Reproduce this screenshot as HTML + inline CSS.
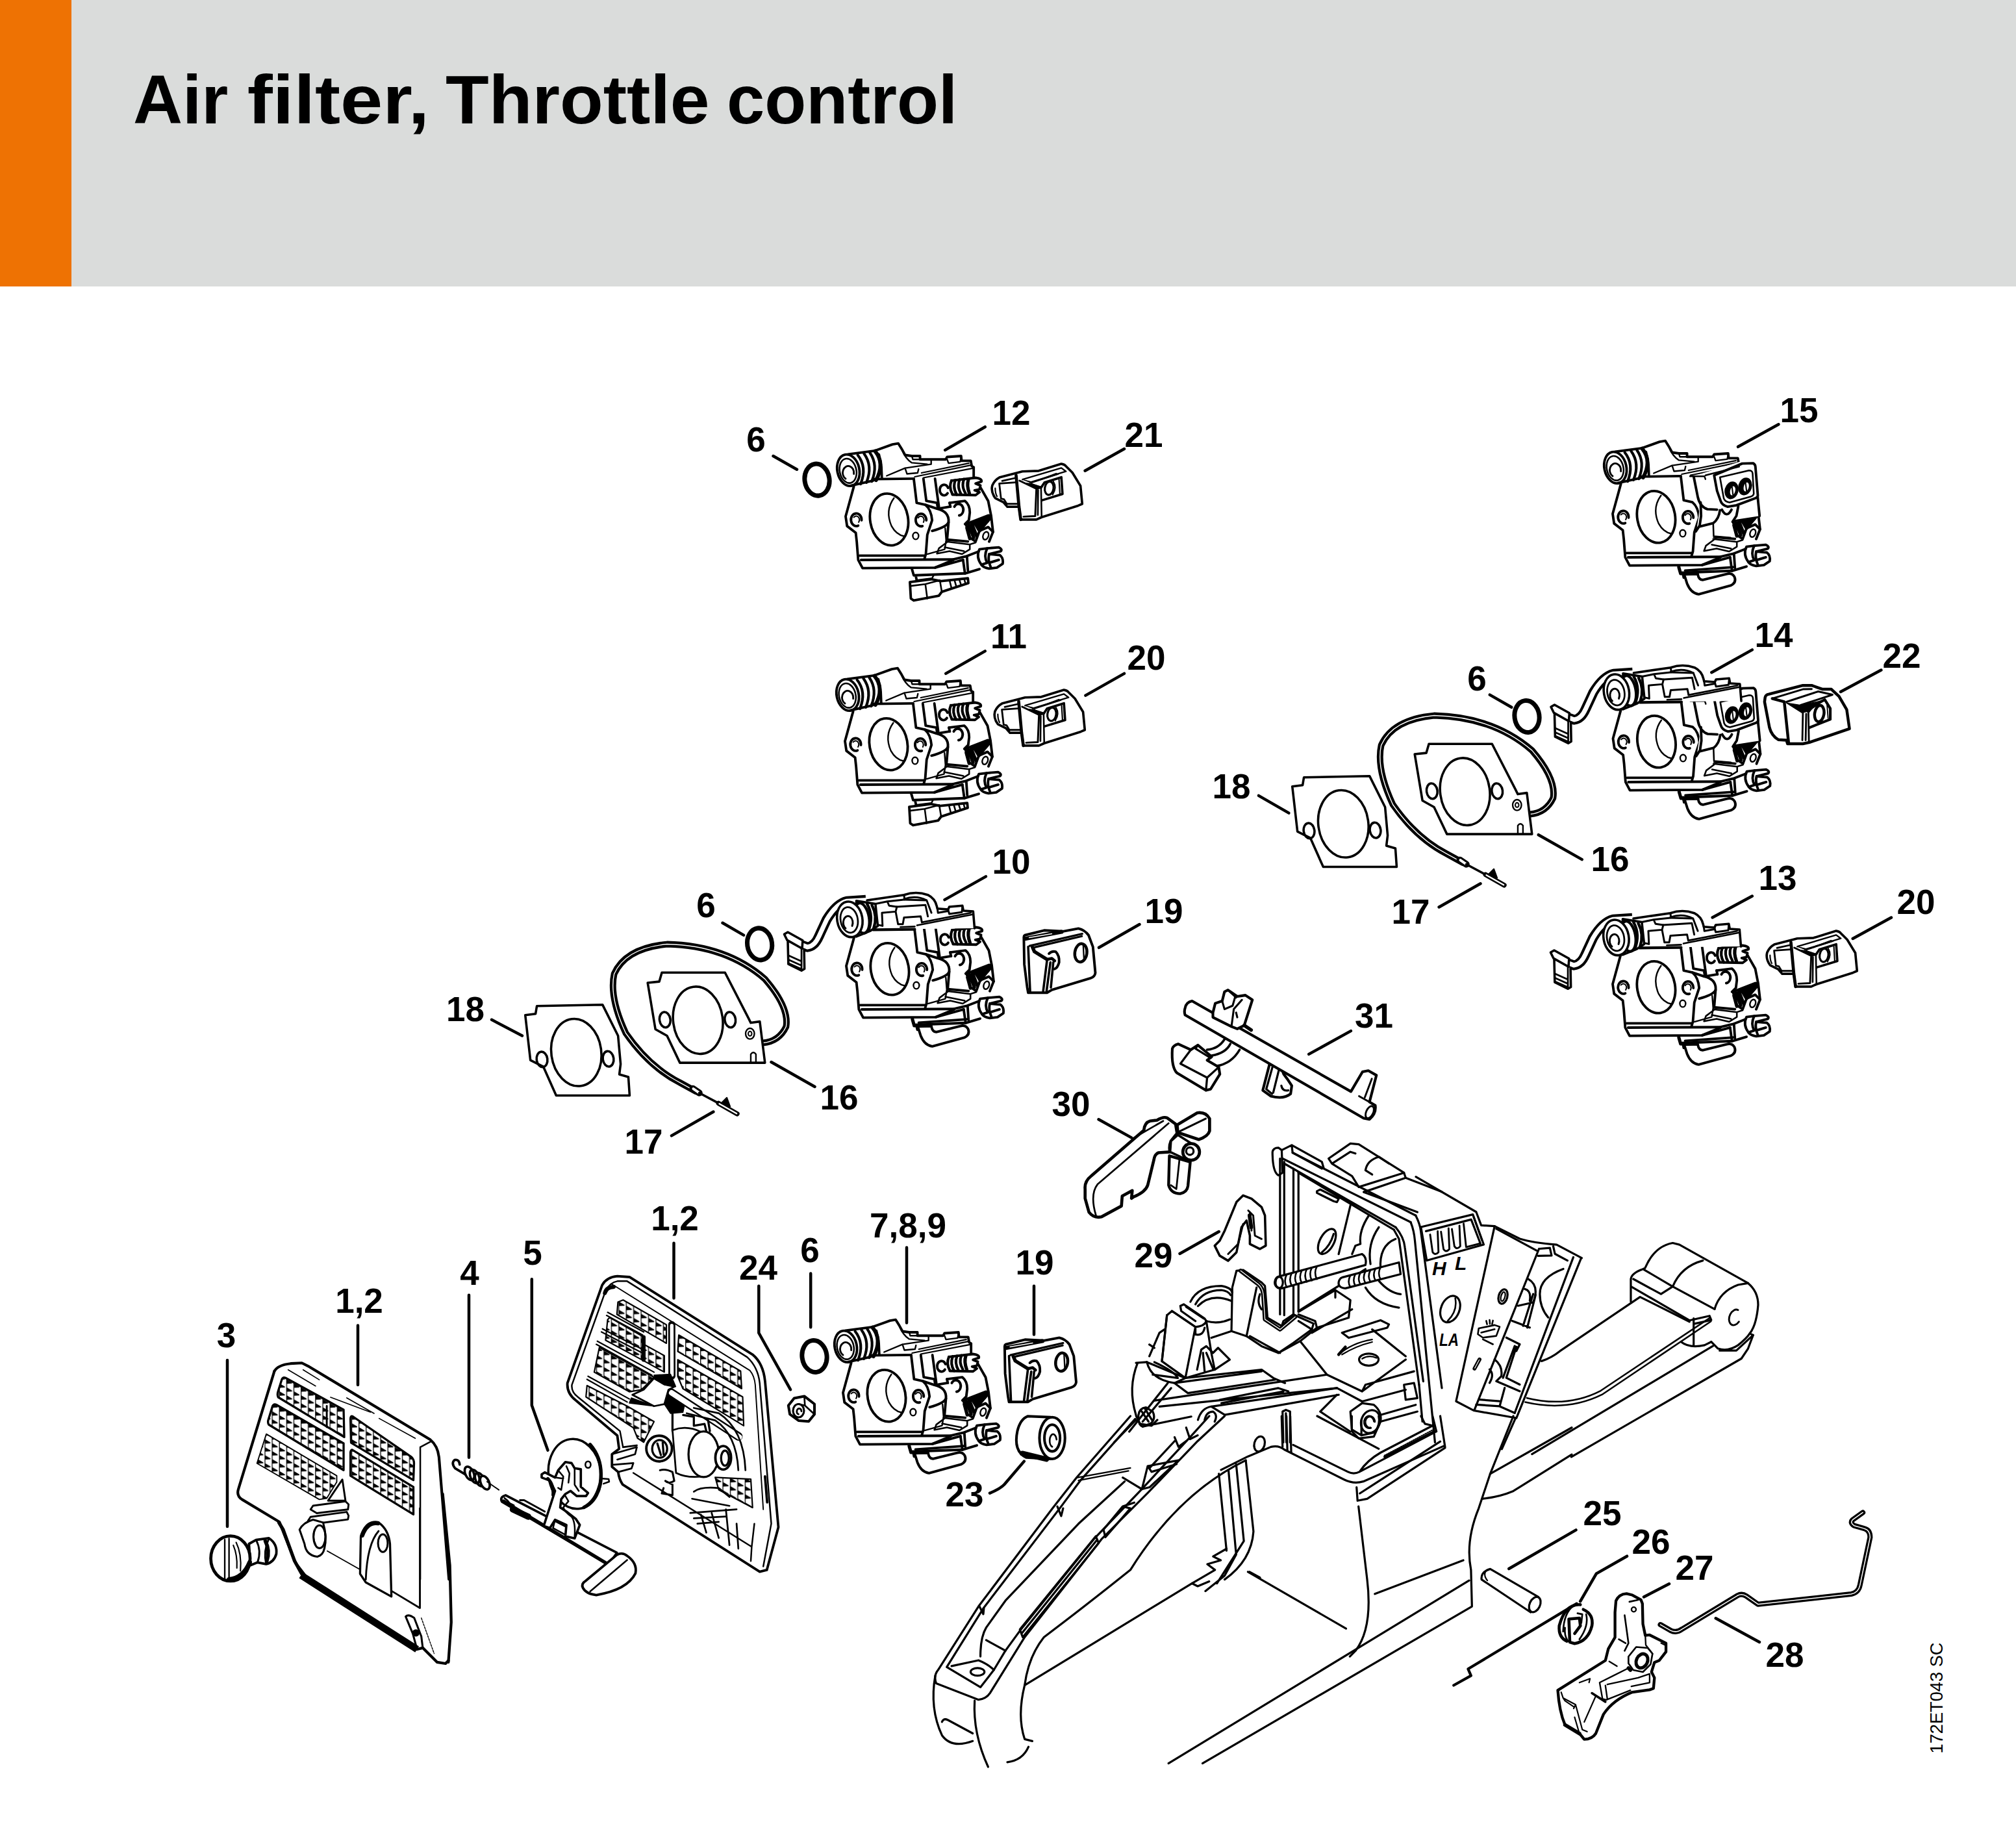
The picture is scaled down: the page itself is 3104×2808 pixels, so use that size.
<!DOCTYPE html>
<html lang="en">
<head>
<meta charset="utf-8">
<title>Air filter, Throttle control</title>
<style>
html,body{margin:0;padding:0;background:#fff;}
body{width:3104px;height:2808px;position:relative;overflow:hidden;font-family:"Liberation Sans",sans-serif;}
#hdr{position:absolute;left:0;top:0;width:3104px;height:441px;background:#dadcdb;}
#bar{position:absolute;left:0;top:0;width:110px;height:441px;background:#ee7203;}
#ttl{position:absolute;left:203px;top:88px;margin:0;font-family:"Liberation Sans",sans-serif;font-weight:bold;font-size:110px;line-height:126px;color:#000;white-space:nowrap;letter-spacing:0px;transform-origin:0 0;}
svg#dia{position:absolute;left:0;top:0;width:3104px;height:2808px;}
svg#dia text{font-family:"Liberation Sans",sans-serif;font-weight:bold;font-size:53px;fill:#000;}
.k{fill:none;stroke:#000;stroke-width:3;stroke-linecap:round;stroke-linejoin:round;}
.w{fill:#fff;stroke:#000;stroke-width:3;stroke-linecap:round;stroke-linejoin:round;}
.t{fill:none;stroke:#000;stroke-width:2;stroke-linecap:round;stroke-linejoin:round;}
.b{fill:#000;stroke:none;}
.ld{fill:none;stroke:#000;stroke-width:4.5;stroke-linecap:round;}
</style>
</head>
<body>
<div id="hdr"></div><div id="bar"></div>

<svg id="dia" viewBox="0 0 3104 2808">
<!-- 00_title.svg -->
<g style="font-size:106px">
<text x="205" y="189.5" textLength="146.2" lengthAdjust="spacingAndGlyphs" style="font-size:106px">Air</text>
<text x="380.8" y="189.5" textLength="280.3" lengthAdjust="spacingAndGlyphs" style="font-size:106px">filter,</text>
<text x="686" y="189.5" textLength="406.6" lengthAdjust="spacingAndGlyphs" style="font-size:106px">Throttle</text>
<text x="1119" y="189.5" textLength="355" lengthAdjust="spacingAndGlyphs" style="font-size:106px">control</text>
</g>

<!-- 10_defs.svg -->
<defs>
<!-- carburetor traced at 6.72x, origin 1270,670 -->
<g id="carbBody" fill="none" stroke="#000" stroke-width="25.9" stroke-linecap="round" stroke-linejoin="round">
 <!-- white silhouette -->
 <path fill="#fff" stroke="none" d="M300 530L215 840L230 940L320 1010L345 1290L390 1375L900 1372L920 1450L880 1520L890 1690L920 1710L1180 1660L1210 1620L1480 1530L1480 1430L1600 1385L1700 1400L1830 1350L1820 1190L1700 1150L1740 1000L1690 680L1610 540L1620 470L1540 440L1520 265L1410 215L1265 225L1250 250L985 250L985 215L830 205L760 85L700 95L520 160L240 195L125 330L150 480L240 530Z"/>
 <!-- front face -->
 <path d="M500 455L920 450" stroke-width="25.3"/>
 <path d="M300 530L240 750L215 840L230 940L320 1010L330 1100L345 1290L390 1375L1140 1370L1430 1290"/>
 <path d="M360 1245L1030 1245" stroke-width="25.3"/>
 <path d="M375 1290L1330 1285"/>
 <path d="M920 450L950 700L1040 720Q1100 770 1110 880L1060 1030L1045 1230L1030 1280"/>
 <!-- bore -->
 <ellipse cx="665" cy="872" rx="196" ry="270" transform="rotate(-10 665 872)"/>
 <path d="M715 650Q620 780 690 940Q740 1030 820 1045" stroke-width="16.1"/>
 <!-- holes -->
 <path d="M345 935A55 65 0 1 1 380 880" /><path d="M300 850A30 35 0 0 1 350 900" stroke-width="13.8"/>
 <path d="M1010 940A55 65 0 1 1 1050 880"/><path d="M965 855A30 35 0 0 1 1020 900" stroke-width="13.8"/>
 <ellipse cx="940" cy="1042" rx="30" ry="36" stroke-width="16.1"/>
 <!-- right body -->
 <path d="M1290 700L1450 680Q1500 720 1500 800L1490 880L1450 920"/>
 <path d="M1290 700L1300 740M1280 900L1265 1080L1480 1100"/>
 <path d="M1340 740A50 60 0 1 1 1390 830" />
 <path d="M1610 540L1690 680L1720 830L1740 1000L1700 1100"/>
 <!-- lower diagonal spring -->
 <path d="M1460 920L1690 830L1720 850L1600 990L1560 1100L1500 1060L1460 920Z" />
 <path d="M1490 930L1540 1060M1520 915L1570 1040M1550 905L1600 990M1470 960L1500 1070" stroke-width="34.5"/><path fill="#000" d="M1560 900L1700 830L1720 850L1610 980Z"/>
 <path d="M1600 990L1690 950L1740 1000"/>
 <ellipse cx="1665" cy="1040" rx="28" ry="42" transform="rotate(20 1665 1040)" stroke-width="16.1"/>
 <!-- lower right block + idle screw -->
 <path d="M1255 1100L1500 1130L1560 1110M1180 1170L1260 1110M1180 1170L1160 1225L1290 1200L1420 1230L1500 1180L1500 1130M1240 1160L1440 1200" stroke-width="17.2"/>
 <path d="M1330 1285L1470 1250L1600 1200M1430 1290L1450 1430L1600 1385M1470 1250L1480 1400"/>
 <path d="M1600 1180Q1560 1260 1620 1340L1680 1320Q1640 1250 1680 1170Z" fill="#fff"/>
 <path d="M1680 1170L1800 1160Q1840 1180 1820 1200L1700 1230L1810 1240Q1850 1270 1840 1330L1780 1370L1700 1380Q1640 1370 1620 1340M1700 1230Q1690 1270 1700 1320L1800 1290M1700 1320L1720 1375"/>
 <!-- bottom -->
 <path d="M900 1380L920 1450L1450 1430M940 1450L950 1500M1140 1370L1330 1290"/>
</g>

<g id="carbTop1" fill="none" stroke="#000" stroke-width="25.9" stroke-linecap="round" stroke-linejoin="round">
 <!-- choke shaft end -->
 <ellipse cx="243" cy="362" rx="114" ry="165" transform="rotate(-12 243 362)" fill="#fff"/>
 <ellipse cx="240" cy="368" rx="86" ry="128" transform="rotate(-12 240 368)" stroke-width="17.2"/>
 <path d="M300 400A58 70 0 1 0 215 450" stroke-width="19.5"/>
 <path d="M240 198L520 160M270 522L500 470"/>
 <path d="M340 205Q440 330 370 505M405 190Q500 320 430 490M465 180Q555 310 485 478" stroke-width="27.6"/>
 <path d="M520 165Q625 290 530 465" stroke-width="39.1"/>
 <!-- top housing -->
 <path d="M520 160L700 95L760 85L800 150L830 205L900 215L985 215L985 250L1250 250L1265 225L1410 215L1415 265L1510 265L1520 320L1540 330L1540 440"/>
 <path d="M560 200L585 330L590 445"/>
 <path d="M800 150Q830 240 900 285L1060 300" stroke-width="16.1"/>
 <path d="M900 215L910 250L985 250M1265 250L1280 290L1400 275L1410 230" stroke-width="16.1"/>
 <path d="M640 420L830 340L1100 300L1100 260M830 340L850 400L960 390L970 350" stroke-width="16.1"/>
 <path d="M1000 390L1490 290M930 430L1510 310M1020 440L1540 340" stroke-width="14.9"/>
</g>
<g id="carbS1" fill="none" stroke="#000" stroke-width="25.9" stroke-linecap="round" stroke-linejoin="round">
 <!-- middle block -->
 <path d="M1020 450L1050 680L1160 700L1170 760L1290 740"/>
 <path d="M1140 450L1180 740" />
 <path d="M1040 720L1160 760Q1290 790 1280 900Q1260 950 1110 990"/>
 <path d="M1245 960L1255 1090L1240 1180L1060 1230" stroke-width="16.1"/>
 <path d="M1270 600A45 55 0 1 1 1275 545"/>
 <!-- upper screw with spring -->
 <path d="M1310 470Q1280 540 1320 610M1350 465Q1320 540 1365 615M1395 460Q1365 530 1410 610M1440 455Q1410 525 1455 600" stroke-width="27.6"/>
 <path d="M1310 470L1560 440Q1630 450 1620 480L1560 500L1610 520L1600 560L1550 570L1600 590L1560 620L1320 615" />
 <path d="M1485 460Q1465 520 1495 600" stroke-width="34.5"/>
</g>
<g id="carbTop2" transform="translate(-544.3,-67.2) scale(1.2333)" fill="none" stroke="#000" stroke-width="19.5" stroke-linecap="round" stroke-linejoin="round">
 <!-- traced at 5.449x origin 2370,1380 (carb 13) -->
 <path fill="#fff" stroke="none" d="M560 200L790 175L1100 140L1200 115L1300 140L1370 200L1380 250L1470 260L1480 240L1590 230L1600 270L1680 275L1690 420L840 430L700 490L560 450Z"/>
 <!-- wire -->
 <path d="M780 182L620 192Q530 215 450 350L385 490Q350 570 290 578L240 560" stroke-width="82.8" stroke-linecap="butt"/>
 <path d="M790 182L620 192Q530 215 450 350L385 490Q350 570 290 578L225 552" stroke="#fff" stroke-width="38" stroke-linecap="butt"/>
 <!-- clip -->
 <path fill="#fff" d="M95 470L125 452L250 522L245 590L120 520ZM125 525L130 720L240 775L265 760L262 600"/>
 <path d="M240 590L240 770M135 650L235 695M135 685L235 730M135 715L235 760" stroke-width="14.9"/>
 <!-- cylinder -->
 <path fill="#fff" d="M700 190L860 215L880 400L820 440L700 490Z"/>
 <path d="M790 215Q850 320 800 445M830 225Q880 320 845 420" stroke-width="23"/>
 <ellipse cx="745" cy="335" rx="62" ry="128" transform="rotate(-10 745 335)" fill="#fff" stroke-width="23"/>
 <ellipse cx="645" cy="345" rx="106" ry="150" transform="rotate(-10 645 345)" fill="#fff"/>
 <ellipse cx="640" cy="350" rx="72" ry="108" transform="rotate(-10 640 350)" stroke-width="14.9"/>
 <path d="M665 400A40 55 0 1 0 610 420" stroke-width="16.1"/>
 <!-- top housing -->
 <path d="M790 185L1100 140Q1200 105 1300 140Q1360 170 1375 235L1380 255L1470 262L1480 240L1590 230L1598 272L1680 278L1692 420"/>
 <path d="M1100 175Q1200 140 1290 185L1330 290" stroke-width="16.1"/>
 <path d="M1100 140L1105 180L1290 185M880 390L920 400L915 290L1030 280L1050 385M1030 280L1040 240L1280 225L1300 320M1050 385L1090 385L1100 330L1240 320L1250 370" stroke-width="16.1"/>
 <path d="M860 215L960 195L1100 180M960 195L975 230L1040 240" stroke-width="16.1"/>
 <path d="M1250 370L1660 290M1210 395L1670 305M1070 410L1190 405" stroke-width="14.9"/>
 <path d="M1380 255L1385 290L1470 275M1470 262L1480 300L1585 285L1590 240" stroke-width="16.1"/>
 <path d="M840 432L1190 428" stroke-width="23"/>
</g>
<g id="carbS2" transform="translate(-5,-38)" fill="none" stroke="#000" stroke-width="25.9" stroke-linecap="round" stroke-linejoin="round">
 <!-- traced at 6.72x origin 2450,660 (carb 15) -->
 <path fill="#fff" stroke="none" d="M1050 490L1530 340L1690 350L1740 900L1480 940L1300 1120L1080 1100L1110 900L1120 800Z"/>
 <path d="M1060 500L1100 700Q1120 800 1200 830L1300 835"/>
 <path d="M1130 760L1135 900L1120 1000L1080 1060M1120 1010L1260 975Q1320 930 1330 840"/>
 <path d="M1260 975L1265 1110L1440 1125" stroke-width="17.2"/>
 <path d="M1350 835Q1400 930 1450 835M1520 800L1500 900L1460 960"/>
 <path d="M1720 700L1740 900" />
 <path fill="#fff" d="M1270 480L1560 358L1675 355Q1695 365 1697 390L1722 690Q1720 705 1700 715L1500 790L1410 805Q1350 790 1335 740L1300 640Z"/>
 <path d="M1330 500L1630 430Q1665 430 1668 460L1680 670Q1675 695 1650 700L1430 760Q1385 755 1370 720Z" stroke-width="17.2"/>
 <path d="M1180 480L1530 390M1020 490L1170 490L1180 520" stroke-width="16.1"/>
 <ellipse cx="1450" cy="635" rx="58" ry="80" transform="rotate(15 1450 635)" fill="#000"/>
 <ellipse cx="1590" cy="595" rx="58" ry="80" transform="rotate(15 1590 595)" fill="#000"/>
 <ellipse cx="1462" cy="640" rx="26" ry="48" transform="rotate(15 1462 640)" fill="#fff" stroke="none"/>
 <ellipse cx="1602" cy="600" rx="26" ry="48" transform="rotate(15 1602 600)" fill="#fff" stroke="none"/>
 <path d="M1455 600L1465 680M1595 560L1605 640" stroke-width="13.8"/>
</g>
<g id="carbLoop" transform="translate(-5,-38)" fill="none" stroke="#000" stroke-width="25.9" stroke-linecap="round" stroke-linejoin="round">
 <path fill="#fff" d="M960 1505L990 1600Q1030 1700 1110 1710L1440 1620Q1505 1590 1480 1530Q1455 1485 1400 1500L1150 1562Q1110 1560 1100 1500Z"/>
 <path d="M900 1430L920 1500L1100 1500M970 1465L1470 1430"/>
</g>
<g id="carbElbowA" fill="none" stroke="#000" stroke-width="25.9" stroke-linecap="round" stroke-linejoin="round">
 <path fill="#fff" d="M880 1520L1100 1490L1200 1510L1480 1480L1485 1530L1210 1620L1180 1660L920 1710L890 1690Z"/>
 <path d="M950 1500L1110 1480L1130 1440M1040 1540L1060 1690M1040 1540L1190 1500L1210 1620M1040 1540L885 1560" stroke-width="17.2"/>
 <path d="M1290 1500L1310 1580M1340 1495L1360 1565M1390 1490L1410 1550M1440 1480L1455 1535" stroke-width="17.2"/>
</g>
</defs>
<g id="carbs">
<g transform="translate(1270,670) scale(0.14881)"><use href="#carbBody"/><use href="#carbTop1"/><use href="#carbS1"/><use href="#carbElbowA"/></g>
<g transform="translate(1269,1016) scale(0.14881)"><use href="#carbBody"/><use href="#carbTop1"/><use href="#carbS1"/><use href="#carbElbowA"/></g>
<g transform="translate(1271,1362) scale(0.14881)"><use href="#carbBody"/><use href="#carbS1"/><use href="#carbTop2"/><use href="#carbLoop"/></g>
<g transform="translate(2451,666) scale(0.14881)"><use href="#carbBody"/><use href="#carbTop1"/><use href="#carbS2"/><use href="#carbLoop"/></g>
<g transform="translate(2451.5,1012) scale(0.14881)"><use href="#carbBody"/><use href="#carbS2"/><use href="#carbTop2"/><use href="#carbLoop"/></g>
<g transform="translate(2451,1390) scale(0.14881)"><use href="#carbBody"/><use href="#carbS1"/><use href="#carbTop2"/><use href="#carbLoop"/></g>
<g transform="translate(1266,2019) scale(0.14881)"><use href="#carbBody"/><use href="#carbTop1"/><use href="#carbS1"/><use href="#carbLoop"/></g>
</g>

<!-- 20_gaskets.svg -->
<defs>
<g id="gaskets" fill="none" stroke="#000" stroke-width="9" stroke-linecap="round" stroke-linejoin="round">
 <!-- traced at 2.52x origin 650,1400 -->
 <path d="M1322 518Q1385 512 1412 455Q1425 380 1330 270Q1180 140 950 135Q790 150 745 250Q725 340 790 480Q880 610 1000 672L1062 706" stroke-width="25"/>
 <path d="M1322 518Q1385 512 1412 455Q1425 380 1330 270Q1180 140 950 135Q790 150 745 250Q725 340 790 480Q880 610 1000 672L1062 706" stroke="#fff" stroke-width="3.6"/>
 <path fill="#fff" d="M400 410L440 405L445 375L700 370L760 490L770 600L765 640L800 650L805 722L520 722L470 610L420 585Z"/>
 <ellipse cx="598" cy="555" rx="97" ry="131" transform="rotate(-8 598 555)"/>
 <ellipse cx="465" cy="582" rx="21" ry="30" transform="rotate(-8 465 582)"/>
 <ellipse cx="722" cy="580" rx="21" ry="30" transform="rotate(-8 722 580)"/>
 <path fill="#fff" d="M875 285L920 280L930 245L1175 245L1265 420L1275 440L1310 435L1330 595L1000 595L950 490L905 465Z"/>
 <ellipse cx="1070" cy="430" rx="96" ry="131" transform="rotate(-8 1070 430)"/>
 <ellipse cx="942" cy="428" rx="21" ry="30" transform="rotate(-8 942 428)"/>
 <ellipse cx="1195" cy="428" rx="21" ry="30" transform="rotate(-8 1195 428)"/>
 <ellipse cx="1272" cy="482" rx="17" ry="21" stroke-width="6"/>
 <ellipse cx="1272" cy="482" rx="7" ry="9" stroke-width="5"/>
 <path d="M1275 592L1275 562Q1285 548 1295 562L1295 592" stroke-width="6"/>
 <!-- plug -->
 <path d="M1050 695L1075 712" stroke-width="26"/>
 <path d="M1052 696L1072 710" stroke="#fff" stroke-width="10"/>
 <path d="M1075 712L1150 752" stroke-width="9"/>
 <path d="M1150 752L1222 793" stroke-width="19"/>
 <path d="M1153 754L1220 792" stroke="#fff" stroke-width="6"/>
 <path d="M1160 752L1182 730L1195 765Z" fill="#000" stroke-width="5"/>
</g>
</defs>
<use href="#gaskets" transform="translate(650,1400) scale(0.39683)"/>
<use href="#gaskets" transform="translate(1831,1048) scale(0.39683)"/>

<!-- 30_covers.svg -->
<defs>
<g id="cover21" fill="none" stroke="#000" stroke-width="40.8" stroke-linecap="round" stroke-linejoin="round">
 <!-- traced at 11.2x origin 1510,690 -->
 <path fill="#fff" d="M330 500L720 400L1000 390L1390 270Q1440 275 1470 310L1580 420L1720 650L1750 960L1680 990L1050 1190L960 1230L690 1230L660 1010L460 1010L390 930L250 860Q170 750 200 640Q240 550 330 500Z"/>
 <path d="M250 690Q250 780 280 830" stroke-width="24"/>
 <path d="M320 610L600 590M320 610L350 870L400 880L450 960L640 960M370 565L590 515" stroke-width="31.2"/>
 <path d="M610 470L660 1010L690 1230" stroke-width="52.8"/>
 <path d="M670 560L960 700L940 1170L740 1180" stroke-width="33.6"/>
 <path d="M960 700L1040 680L1050 1190M990 720L985 1150" stroke-width="28.8"/>
 <path d="M720 540L1390 340L1470 400L850 590" stroke-width="26.4"/>
 <path fill="#000" stroke-width="12" d="M720 540L880 600L1340 450L1300 430L900 585Z"/>
 <path fill="#000" stroke-width="12" d="M760 600L960 690L1060 670L880 610Z"/>
 <path d="M1040 680L1100 590L1390 500L1410 790L1050 900" stroke-width="40.8"/>
 <ellipse cx="1180" cy="690" rx="75" ry="115" transform="rotate(8 1180 690)" stroke-width="36"/>
 <path d="M1250 570Q1320 680 1240 800M1350 540L1365 780" stroke-width="24"/>
</g>
<g id="cover19" fill="none" stroke="#000" stroke-width="52.8" stroke-linecap="round" stroke-linejoin="round">
 <!-- traced at 13.44x origin 1560,1410 -->
 <path fill="#fff" d="M240 400L640 300L1030 320L1350 260Q1480 290 1560 400L1650 640L1700 1180Q1690 1260 1600 1290L800 1530L700 1590L310 1590L290 1480L230 1000L220 440Q220 410 240 400Z"/>
 <path d="M260 470L1000 330" stroke-width="84"/>
 <path d="M330 450L800 370" stroke="#fff" stroke-width="18"/>
 <path d="M340 620L1430 370M440 650L1420 420" stroke-width="43.2"/>
 <path d="M400 650L440 740L700 900" stroke-width="72"/>
 <path d="M310 640L350 1560M700 920L620 1560M770 960L690 1560M830 960L780 1480" stroke-width="48"/>
 <path d="M740 780Q800 720 880 740Q960 820 950 960Q920 1080 850 1100" stroke-width="52.8"/>
 <path d="M700 900L800 880L860 930" stroke-width="60"/>
 <ellipse cx="1400" cy="765" rx="125" ry="190" transform="rotate(8 1400 765)" stroke-width="60"/>
 <path d="M1450 620L1465 900" stroke-width="31.2"/>
</g>
<g id="cover22" fill="none" stroke="#000" stroke-width="45.6" stroke-linecap="round" stroke-linejoin="round">
 <!-- traced at 11.86x origin 2700,1040 -->
 <path fill="#fff" d="M210 400Q220 350 280 340L900 180L1060 180L1260 250L1420 250L1560 380L1700 620L1750 970L1020 1220L900 1245L620 1245L600 1180L450 1170Q330 1100 290 950L200 480Z" stroke-width="52.8"/>
 <path d="M340 420L560 480L640 1240" stroke-width="52.8"/>
 <path d="M340 420L900 250L1060 245M600 480L1180 290L1440 350L860 540" stroke-width="36"/>
 <path fill="#000" stroke-width="14.4" d="M600 500L880 680L1000 650L1300 450L860 540Z"/>
 <path d="M900 680L890 1180M960 700L950 1180M1000 660L1010 1220" stroke-width="33.6"/>
 <path d="M1000 660L1100 540L1300 440L1400 600L1400 800L1020 950" stroke-width="48"/>
 <ellipse cx="1200" cy="695" rx="85" ry="150" transform="rotate(8 1200 695)" stroke-width="52.8"/>
 <path d="M1340 520L1360 780" stroke-width="21.6"/>
</g>
</defs>
<g id="covers">
<use href="#cover19" transform="translate(1560,1410) scale(0.0744)"/>
<use href="#cover19" transform="translate(1530.5,2040) scale(0.0744)"/>
<use href="#cover21" transform="translate(1510,690) scale(0.0893)"/>
<use href="#cover21" transform="translate(1514,1038) scale(0.0893)"/>
<use href="#cover22" transform="translate(2700,1040) scale(0.08432)"/>
<use href="#cover21" transform="translate(2703,1409) scale(0.0893)"/>
</g>

<!-- 40_filterL.svg -->
<defs>
<pattern id="mesh" width="116" height="64" patternUnits="userSpaceOnUse">
 <rect width="116" height="64" fill="#fff"/>
 <path d="M6 0V64M64 0V64" stroke="#000" stroke-width="6.5" fill="none"/>
 <path d="M6 2L50 28L50 36L6 38ZM64 34L108 60L108 68L64 70ZM64 -30L108 -4L108 4L64 6Z" fill="#000"/>
</pattern>
</defs>
<g id="filterL" fill="none" stroke="#000" stroke-linecap="round" stroke-linejoin="round">
 <path fill="#fff" stroke="none" d="M422.5 2110.7L447.5 2099L474 2103L662 2216L676 2243L692.6 2410L694.8 2497L690 2557L686 2561L673 2559L651 2537L642 2541L464 2425L430 2343L372.6 2308L367 2293Z"/>
 <!-- upper part traced at 5.2105x origin 340,2080 -->
 <g transform="translate(340,2080) scale(0.19192)" stroke-width="18.4">
  <path d="M430 160Q460 110 560 100L650 95L700 120L1680 710Q1740 760 1750 850L1830 1830" stroke-width="21.6"/>
  <path d="M430 160L140 1110Q125 1160 170 1190L470 1370L520 1500L600 1700L700 1830" stroke-width="21.6"/>
  <path d="M1600 770L1600 1830M1600 770L1690 722" stroke-width="13"/>
  <path d="M540 150L760 280M660 150L790 230M880 370L1200 490M1010 375L1230 500M1270 540L1560 700" stroke-width="8.6"/>
  <g stroke-width="17.3" fill="url(#mesh)">
   <path d="M520 215L985 470L990 690L460 370Q450 350 460 320L490 225Q500 205 520 215Z"/>
   <path d="M445 430L985 740L985 955L385 590Q375 575 380 555L415 440Q425 420 445 430Z"/>
   <path d="M365 665L930 1000L930 1050L850 1180L790 1190L290 900Z" stroke-width="9.7"/>
   <path d="M1060 525L1530 850Q1550 870 1550 900L1545 1035L1045 735L1040 545Q1040 515 1060 525Z"/>
   <path d="M1060 795L1545 1090L1545 1310L1040 1000L1040 810Q1045 785 1060 795Z"/>
  </g>
  <path d="M850 440L850 610" stroke-width="15.1"/>
  <!-- triangle + latch -->
  <path fill="#fff" d="M860 1200L975 1030L1000 1200Z" stroke-width="15.1"/>
  <path fill="#fff" d="M740 1240L1000 1205L1025 1230L1020 1270L770 1300L720 1270Z" stroke-width="15.1"/>
  <path fill="#fff" d="M720 1330L1010 1290L1025 1320L1020 1350L760 1385L700 1360Z" stroke-width="15.1"/>
 </g>
 <!-- lower part traced at 4.5595x origin 300,2300 -->
 <g transform="translate(300,2300) scale(0.21932)" stroke-width="18.4">
  <path d="M590 200L620 250L700 470L750 560" stroke-width="23.8"/>
  <path d="M745 570L1560 1090" stroke-width="49.7" stroke-linecap="butt"/>
  <path d="M1560 1090L1600 1080L1700 1180L1760 1190L1780 1170" stroke-width="19.4"/>
  <path d="M1740 0L1790 500L1800 900L1780 1180" stroke-width="19.4"/>
  <path d="M1580 100L1580 800L1380 680" stroke-width="13"/>
  <path fill="#fff" d="M735 250Q760 200 830 180L900 200Q930 300 910 380Q900 430 860 440Q780 430 770 350Z" stroke-width="14"/>
  <ellipse cx="875" cy="300" rx="42" ry="80" stroke-width="14"/>
  <path d="M840 250Q820 300 850 360" stroke-width="9.7"/>
  <path d="M930 400L1160 530" stroke-width="8.6"/>
  <path fill="#fff" d="M1160 560L1165 300Q1200 180 1290 200Q1360 250 1370 350L1380 720L1200 620Z" stroke-width="15.1"/>
  <path d="M1175 290Q1210 195 1285 205" stroke-width="30.2"/>
  <path d="M1200 600Q1210 350 1290 260" stroke-width="13"/>
  <ellipse cx="1320" cy="345" rx="34" ry="62" stroke-width="14"/>
  <path d="M1480 860Q1500 840 1540 870L1590 1000L1600 1080M1480 860L1530 980L1560 1090" stroke-width="14"/>
  <circle cx="1552" cy="975" r="26" fill="#000" stroke="none"/>
  <path d="M1590 870L1680 1120" stroke-width="6.5" stroke-dasharray="14 8"/>
  <!-- screw 3 -->
  <path fill="#fff" d="M380 350L430 322L520 310Q580 350 572 420Q555 480 500 492L440 480L390 500Z" stroke-width="17.3"/>
  <path d="M430 322Q470 400 440 480M520 312Q480 400 500 490" stroke-width="13"/>
  <path d="M495 330Q530 400 505 470" stroke-width="25.9"/>
  <ellipse cx="250" cy="453" rx="138" ry="158" fill="#fff" stroke-width="21.6"/>
  <path d="M210 320L210 590M240 312L240 598" stroke-width="10.8"/>
  <path d="M240 600Q340 590 385 480" stroke-width="32.4"/>
  <path d="M290 340Q330 420 320 540M270 360Q300 430 295 520" stroke-width="9.7"/>
 </g>
</g>

<!-- 41_filterR.svg -->
<defs><pattern id="mesh2" href="#mesh" patternTransform="scale(0.72)"/></defs>
<g id="filterR" transform="translate(860,1940) scale(0.27408)" fill="none" stroke="#000" stroke-width="12" stroke-linecap="round" stroke-linejoin="round">
 <!-- traced at 3.6486x origin 860,1940 -->
 <path fill="#fff" stroke-width="14" d="M245 140Q270 95 330 90L400 95L1090 530Q1150 580 1160 680L1235 1500L1170 1740L1130 1750L360 1260Q340 1230 335 1190L300 1160L300 1090L340 1060L330 985L100 790Q45 750 50 690Z"/>
 <path d="M265 170Q290 125 330 118L385 118L1060 545Q1120 600 1130 690L1195 1480L1150 1720" stroke-width="9"/>
 <path d="M265 170L75 700Q70 740 110 770L345 960L362 1050" stroke-width="9"/>
 <path d="M300 135L1075 620Q1100 650 1105 700L1150 1400" stroke-width="7"/>
 <path d="M260 185Q270 150 310 150" stroke-width="22"/>
 <g fill="url(#mesh2)" stroke-width="8">
  <path d="M362.5 223.5L605.8 362.5L605.8 466.8L327.8 304.6L333.6 235.1Z"/>
  <path d="M287.3 322L478.4 432L478.4 472.6L594.2 536.3L594.2 628.9L478.4 565.2L264.1 449.4L275.7 333.6Z"/>
  <path d="M229.3 490L536.3 657.9L466.8 727.4L397.3 739L200.4 628.9Z"/>
  <path d="M159.8 704.2L385.7 820.1L536.3 906.9L478.4 1022.8L443.6 999.6L420.5 941.7L154 767.9Z"/>
  <path d="M675.3 420.5L1022.8 623.2L1028.6 721.6L669.5 513.1Z"/>
  <path d="M669.5 559.4L1034.3 767.9L1040.1 930.1L698.4 721.6L669.5 652.1Z"/>
  <path d="M880 1220L1080 1230L1090 1390L900 1290Z"/>
 </g>
 <path d="M275.7 293L478.4 403.1M269.9 310.4L472.6 420.5M246.7 385.7L472.6 501.5M240.9 403.1L466.8 518.9M217.8 455.2L536.3 628.9M212 472.6L524.7 646.3M165.6 652.1L397.3 779.5M159.8 669.5L385.7 796.9" stroke-width="8"/>
 <path d="M636 362L637 650" stroke-width="40"/>
 <path d="M636 368L637 645" stroke="#fff" stroke-width="20"/>
 <path d="M478 432L478 560" stroke-width="22"/>
 <!-- center mount -->
 <path fill="#fff" d="M478.4 727.4L536.3 663.7L594.2 698.4L652.1 710L617.4 727.4L594.2 808.5L536.3 820.1L414.7 756.4Z" stroke-width="10"/>
 <path fill="#000" stroke-width="6" d="M536.3 646.3L628.9 640.5L657.9 710L594.2 698.4L542.1 669.5ZM594.2 808.5L617.4 733.2L710 802.7L698.4 854.8L628.9 860.6ZM408.9 773.7L536.3 820.1L397.3 802.7Z"/>
 <path d="M635 745L1010 990" stroke-width="48"/>
 <path d="M635 745L1016 994" stroke="#fff" stroke-width="30"/>
 <path d="M720 860L880 900Q1000 980 1010 1180" stroke-width="10"/>
 <path d="M760 830L900 860Q1040 950 1050 1180" stroke-width="10"/>
 <path d="M700 870L760 880L760 930L820 920L830 960M840 900L850 960M640 860L640 960" stroke-width="12"/>
 <!-- cylinders -->
 <path fill="#fff" d="M640 955Q720 925 800 965L805 1215Q720 1225 660 1195Z" stroke-width="10"/>
 <ellipse cx="815" cy="1090" rx="85" ry="128" fill="#fff" stroke-width="12"/>
 <ellipse cx="925" cy="1110" rx="44" ry="66" fill="#fff" stroke-width="14"/>
 <ellipse cx="935" cy="1112" rx="22" ry="42" stroke-width="12"/>
 <circle cx="565" cy="1058" r="72" fill="#fff" stroke-width="14"/>
 <ellipse cx="568" cy="1060" rx="42" ry="50" stroke-width="12"/>
 <path d="M555 1030L575 1095M585 1025L590 1090" stroke-width="12"/>
 <!-- hooks -->
 <path d="M570 1180Q600 1170 640 1190L650 1240Q620 1260 600 1240M600 1240L640 1260L640 1320L580 1310L590 1280" stroke-width="11"/>
 <path d="M760 1300Q800 1270 900 1280L960 1330M750 1340L960 1380M740 1420L1000 1400M760 1450L940 1440M780 1480L900 1470" stroke-width="10"/>
 <path d="M800 1430L830 1530M860 1420L900 1560M940 1400L960 1600M1000 1480L1010 1620" stroke-width="10"/>
 <!-- floor -->
 <path d="M420 1195L1085 1610L1100 1480M1085 1610L1080 1690" stroke-width="9"/>
 <path d="M362 1050L440 1040M300 1090L440 1050L430 1090L330 1120M300 1150L420 1140L410 1170L335 1190" stroke-width="10"/>
 <path d="M1160 1215L1172 1360" stroke-width="14"/>
</g>

<!-- 42_choke.svg -->
<g id="choke" transform="translate(680,2200) scale(0.15873)" fill="none" stroke="#000" stroke-width="25" stroke-linecap="round" stroke-linejoin="round">
 <!-- traced at 6.3x origin 680,2200 -->
 <!-- spring 4 -->
 <path d="M175 345Q170 290 125 300Q90 330 130 380L230 440" stroke-width="23"/>
 <ellipse cx="270" cy="430" rx="40" ry="70" transform="rotate(-25 270 430)" stroke-width="23"/>
 <ellipse cx="320" cy="460" rx="40" ry="70" transform="rotate(-25 320 460)" stroke-width="23"/>
 <ellipse cx="370" cy="490" rx="40" ry="70" transform="rotate(-25 370 490)" stroke-width="23"/>
 <ellipse cx="420" cy="520" rx="40" ry="70" transform="rotate(-25 420 520)" fill="#fff" stroke-width="23"/>
 <path d="M440 510L555 590" stroke-width="12"/>
 <!-- shaft -->
 <path fill="#fff" d="M620 642L1700 1200L1620 1315L585 705Q560 660 620 642Z" stroke-width="23"/>
 <path d="M600 700L1620 1315" stroke-width="34"/>
 <path d="M690 780L840 850" stroke-width="60"/>
 <path d="M610 670Q640 690 660 720L700 740M760 690L800 690L1000 800" stroke-width="18"/>
 <!-- disc -->
 <ellipse cx="1292" cy="435" rx="255" ry="340" transform="rotate(-8 1292 435)" fill="#fff" stroke-width="22"/>
 <path d="M1440 150Q1570 300 1540 520Q1500 700 1380 760" stroke-width="34"/>
 <path d="M1560 480L1620 485L1625 510L1570 530" stroke-width="16"/>
 <ellipse cx="1420" cy="345" rx="26" ry="32" stroke-width="16"/>
 <!-- bracket -->
 <path fill="#fff" d="M970 440L1000 420L1100 470L1130 400L1200 320L1260 330L1290 380L1350 390L1350 560L1420 620L1400 650L1310 650L1250 600L1200 630L1160 680L1150 760L1210 800L1300 870L1340 930L1290 1060L1200 1040L1210 930L1100 880L1050 960L990 940L1100 600L1050 500L970 470Z" stroke-width="23"/>
 <path d="M1130 400L1180 460L1160 590M1210 360L1240 430L1230 520M1290 380L1290 540L1330 600M1100 470L1180 480M1130 570L1160 590" stroke-width="16"/>
 <path d="M1200 650L1230 700L1180 760Q1190 800 1260 850Q1300 900 1290 1040M1100 880L1080 960L1190 1020" stroke-width="16"/>
 <path d="M1030 480Q1090 540 1080 640" stroke-width="30"/>
 <!-- knob -->
 <path fill="#fff" d="M1370 1540Q1350 1500 1400 1470L1700 1220Q1750 1190 1800 1230Q1900 1300 1880 1400Q1800 1560 1500 1610Q1400 1600 1370 1540Z" stroke-width="24"/>
 <path d="M1440 1575L1800 1270" stroke-width="16"/>
</g>
<g id="nut24" transform="translate(850,1820) scale(0.44643)" fill="none" stroke="#000" stroke-width="9" stroke-linecap="round" stroke-linejoin="round">
 <path fill="#fff" d="M815 770L835 745L870 738L905 765L905 800L885 825L850 822L820 800Z" stroke-width="9"/>
 <ellipse cx="850" cy="788" rx="19" ry="23" stroke-width="7"/>
 <path d="M860 790A8 10 0 1 0 850 800M870 738L872 770L905 800M872 770L850 765" stroke-width="6"/>
</g>
<g id="bush23" transform="translate(850,2100) scale(0.44643)" fill="none" stroke="#000" stroke-width="9.5" stroke-linecap="round" stroke-linejoin="round">
 <path fill="#fff" d="M1640 180L1720 183L1720 327L1635 322Q1590 300 1605 230Q1615 190 1640 180Z" stroke-width="9"/>
 <path d="M1622 308L1705 328" stroke-width="18"/>
 <ellipse cx="1725" cy="255" rx="44" ry="72" fill="#fff" stroke-width="9"/>
 <ellipse cx="1725" cy="255" rx="27" ry="46" stroke-width="9"/>
 <path d="M1740 260A12 22 0 1 0 1725 285" stroke-width="6"/>
</g>

<!-- 50_housing1.svg -->
<g id="h1" transform="translate(1700,1750) scale(0.25794)" fill="none" stroke="#000" stroke-width="12.5" stroke-linecap="round" stroke-linejoin="round">
 <!-- traced at 3.877x origin 1700,1750 -->
 <!-- part 29 clip -->
 <path fill="#fff" stroke-width="13.8" d="M660 650L690 620L720 560L790 390L830 350L880 370L940 420L960 470L965 650L930 670L870 640L870 590L850 500L820 540L790 690L740 740L690 710Z"/>
 <path d="M860 440L890 470L900 590L940 610M740 700L800 640L830 520M870 450L880 560" stroke-width="11.2"/>
 <path d="M868 470L878 540" stroke-width="22.5"/>
 <!-- frame left cap + post -->
 <path fill="#fff" d="M1005 90Q1010 65 1040 65L1060 80L1065 215L1040 230Q1005 210 1005 90Z"/>
 <path d="M1050 130V1060M1075 150V1065M1130 190V1060M1160 210V1040"/>
 <path d="M1060 80L1120 50L1300 150L1310 185M1120 50L1125 95L1300 190"/>
 <path d="M1125 95L1860 470M1065 130L1830 510M1075 160L1740 540M1160 215L1730 555"/>
 <path d="M1860 470Q1885 520 1890 560L2016 1500M1830 510Q1850 560 1855 620L1975 1824M1740 540Q1790 600 1795 660L1905 1460M1730 555L1760 610L1880 1480"/>
 <!-- box top -->
 <path d="M1340 130L1470 40L1520 45L1790 215L1800 245L1550 330M1340 130L1360 160L1480 235L1520 300M1360 160L1470 90L1500 100"/>
 <path d="M1560 200Q1570 140 1640 120L1700 160M1560 200L1600 225M1520 300L1790 215M1550 330L1870 450M1800 245L2016 329"/>
 <path d="M1270 325L1290 315L1400 370L1390 390L1370 385L1270 335Z"/>
 <!-- back wall -->
 <path d="M1470 410L1400 700M1160 1040L1560 790"/>
 <ellipse cx="1330" cy="625" rx="42" ry="82" transform="rotate(28 1330 625)"/>
 <path d="M1300 690Q1350 650 1370 580" />
 <path d="M1580 470Q1520 560 1530 640L1500 650L1480 700M1640 540Q1570 640 1590 760M1740 610Q1640 650 1650 790M1560 900Q1620 1000 1760 1020M1640 860Q1700 930 1770 940"/>
 <!-- rods -->
 <path fill="#fff" d="M1040 835L1540 700Q1570 720 1560 765L1060 905Q1010 900 1020 860Q1025 840 1040 835Z"/>
 <path d="M1090 822Q1070 860 1090 898M1120 814Q1100 852 1120 890M1150 806Q1130 844 1150 882M1180 798Q1160 836 1180 874M1210 790Q1190 828 1210 866M1240 782Q1220 820 1240 858M1270 774Q1250 812 1270 850" stroke-width="10"/>
 <ellipse cx="1045" cy="870" rx="22" ry="34"/>
 <path fill="#fff" d="M1420 840L1760 750L1770 820L1440 905Q1395 900 1400 868Q1405 845 1420 840Z"/>
 <path d="M1470 827Q1450 865 1470 898M1500 819Q1480 857 1500 890M1530 811Q1510 849 1530 882M1560 803Q1540 841 1560 874M1590 795Q1570 833 1590 866M1620 787Q1600 825 1620 858M1650 779Q1630 817 1650 850" stroke-width="10"/>
 <!-- block under frame -->
 <path d="M1160 1045L1380 915L1470 975L1460 1080L1270 1140L1260 1100L1160 1060"/>
 <path d="M1380 915L1380 960M1270 1140L1170 1220L1040 1290"/>
 <!-- tab at right -->
 <path d="M1420 1170L1650 1095L1700 1120L1690 1140L1460 1200Z"/>
 <path d="M1400 1300Q1480 1230 1600 1210M1420 1300Q1500 1250 1600 1225" stroke-width="8.8"/>
 <path d="M1400 1300L1440 1255" stroke-width="17.5"/>
 <ellipse cx="1580" cy="1330" rx="58" ry="36"/>
 <path d="M1540 1325Q1580 1300 1625 1320" stroke-width="8.8"/>
 <!-- floor lines right -->
 <path d="M1170 1220L1330 1420L1540 1520L1800 1330M1240 1170L1480 1030M1600 1150L1800 1310M1540 1520L1560 1480L1850 1400"/>
 <!-- center bracket w/ L-hook -->
 <path fill="#fff" d="M790 800L830 795L940 870L960 890L975 1080L1060 1130L1130 1060L1160 1075L1250 1115L1240 1150L1130 1230L1040 1290L940 1250L850 1190L760 1160L765 900Z"/>
 <path d="M815 800L920 880Q945 900 950 940L960 1090L1050 1150L1140 1075" stroke-width="25"/>
 <path d="M815 800L920 880Q945 900 950 940L960 1090L1050 1150L1140 1075" stroke="#fff" stroke-width="5"/>
 <path d="M910 900L850 1190M930 940Q910 990 940 1030M870 1190L960 1240L1050 1290M1060 1130L1070 1100L1130 1060M1240 1150L1160 1100"/>
 <!-- left tower -->
 <path fill="#fff" d="M375 1065L405 1040L545 1135Q600 1130 610 1100L640 1290L660 1390L485 1440L345 1340Z"/>
 <path d="M375 1065L345 1340M405 1040L545 1135L485 1440M545 1135L545 1180Q590 1190 600 1140"/>
 <path d="M455 1010L475 1000L600 1085L610 1100M455 1010L460 1040L545 1100M490 1015L595 1085"/>
 <!-- ring/cup -->
 <path d="M515 985Q560 890 700 890Q760 900 765 930M545 1000Q590 915 700 915Q740 920 755 945M560 1010Q640 930 760 980"/>
 <path d="M610 1100Q680 1120 750 1090M760 1160L640 1200"/>
 <!-- small cone -->
 <path d="M555 1390L580 1270L610 1250L650 1290L680 1260L750 1330L660 1390M590 1290L600 1400M610 1290L650 1385"/>
 <!-- long rails -->
 <path d="M255 1345L485 1440L940 1390L1010 1440L1080 1470M485 1440L420 1470L500 1530L1020 1450M420 1470L940 1400"/>
 <path d="M300 1575L1330 1420M330 1610L1390 1500M690 1570L1040 1500L1100 1520M700 1590L1070 1520M1390 1500L1540 1580L1800 1510"/>
 <path d="M255 1345Q280 1450 420 1470M290 1420L440 1440Q420 1400 300 1345"/>
 <path d="M200 1350Q140 1500 190 1660M190 1350L255 1345"/>
 <path d="M270 1310L330 1170L360 1150M270 1240L300 1260"/>
 <!-- bottom-left rod end & pivot -->
 <path d="M205 1660Q210 1620 250 1615L290 1640Q310 1680 280 1710L230 1730Q200 1720 205 1660ZM225 1640L265 1700M245 1625L285 1690"/>
 <path d="M190 1690L60 1824M380 1470L150 1760M400 1500L230 1700"/>
 <path d="M230 1730L520 1670M560 1690Q580 1620 640 1610L720 1660M600 1690Q610 1640 650 1640Q680 1660 660 1700"/>
 <path d="M640 1610L1390 1500M720 1660L1400 1540"/>
 <!-- right bottom boss -->
 <path fill="#fff" d="M1470 1640L1540 1590L1610 1600Q1660 1640 1650 1700L1610 1790L1520 1800L1480 1760Z"/>
 <ellipse cx="1590" cy="1700" rx="55" ry="70" transform="rotate(20 1590 1700)"/>
 <path d="M1610 1700A25 32 0 1 0 1590 1735" stroke-width="8.8"/>
 <path d="M1650 1660L1860 1600M1650 1700L1870 1640M1790 1480L1850 1470L1870 1560L1800 1570ZM1880 1480L1900 1700"/>
 <!-- vertical pin -->
 <path d="M1065 1640L1085 1630L1110 1640L1110 1824M1065 1640L1070 1824M1085 1650L1088 1824"/>
 <path d="M1290 1640L1470 1760M1290 1640L1390 1540"/>
</g>

<!-- 51_housing2.svg -->
<g id="h2" transform="translate(2180,1760) scale(0.25794)" fill="none" stroke="#000" stroke-width="12.5" stroke-linecap="round" stroke-linejoin="round">
 <!-- traced at 3.877x origin 2180,1760 -->
 <path d="M30 500L340 425L405 605L65 700ZM60 525L330 455L385 598"/>
 <path d="M85 545L100 650Q115 672 135 650L130 525M150 528L165 632Q180 655 200 632L195 508M215 512L230 615Q245 638 265 615L260 492M285 480L300 620L385 598M345 440L395 580" stroke-width="11.2"/>
 <ellipse cx="205" cy="990" rx="55" ry="82" transform="rotate(22 205 990)"/>
 <path d="M235 925Q250 1000 190 1060" stroke-width="10"/>
 <!-- rear panel -->
 <path fill="#fff" d="M470 495L240 1540L345 1595L600 1640L985 690L840 605L620 570Z" stroke="none"/>
 <path d="M470 495L240 1540L345 1595L600 1640L985 690"/>
 <path d="M0 200L360 410L390 490L470 495L620 570Q700 595 840 605L990 685"/>
 <path d="M735 630L350 1590M940 680L590 1610M735 630L800 625L810 670L730 672M820 615L830 660L905 700M480 510L720 640"/>
 <path d="M670 810Q740 850 700 950L610 970M880 750Q740 800 740 900Q740 980 790 1040M700 900L640 1090M715 905L665 1100M575 1060L680 1100M650 870Q690 880 680 940"/>
 <path d="M540 1160L620 1200L600 1240M590 1210L520 1400M600 1215L540 1400M470 1290Q520 1330 510 1390L480 1420L620 1480M540 1400L620 1440M530 1460L500 1570M360 1560L500 1570L590 1610M380 1530L500 1540M440 1350Q470 1380 440 1430"/>
 <ellipse cx="520" cy="915" rx="26" ry="44" transform="rotate(15 520 915)"/>
 <ellipse cx="520" cy="915" rx="12" ry="28" transform="rotate(15 520 915)" stroke-width="8.8"/>
 <path d="M375 1105L470 1085L500 1095L480 1150L400 1160L370 1140ZM390 1130L470 1110M420 1060L425 1080M440 1055L442 1078M460 1058L455 1080M400 1170L460 1200" stroke-width="10"/>
 <path d="M350 1345L380 1290" stroke-width="22.5"/>
 <path d="M352 1342L378 1293" stroke="#fff" stroke-width="5" stroke-dasharray="6 5"/>
</g>
<g id="h3" transform="translate(2480,1880) scale(0.25794)" fill="none" stroke="#000" stroke-width="12.5" stroke-linecap="round" stroke-linejoin="round">
 <!-- traced at 3.877x origin 2480,1880 -->
 <path d="M-413 835Q-353 815 -303 775L175 452L470 600"/>
 <path d="M120 480L120 345Q125 310 190 287L205 280Q260 150 370 130L410 140L820 370Q880 420 880 500Q870 620 830 670L850 680L820 760L780 820L-235 1407"/>
 <path d="M135 345L300 435L370 390L200 290M370 390Q420 270 550 235M370 390L620 525M125 392L470 592L590 565L600 590L500 612"/>
 <path d="M620 525Q650 420 760 380L820 370M600 720L640 760Q700 780 760 740Q810 700 830 670M650 772L750 772L850 680"/>
 <path d="M765 600A33 48 20 1 1 760 530" stroke-width="11.2"/>
 <path d="M495 580V740M420 720Q470 760 560 740L600 720"/>
 <path d="M590 578L-60 1012Q-260 1115 -500 1055M598 598L-52 1035Q-260 1138 -510 1080" stroke-width="10"/>
 <path d="M610 745L-470 1390M-568 1175L-650 1360"/>
</g>
<g font-family="Liberation Sans" style="font-style:italic">
<text x="2205" y="1963" style="font-size:30px;font-style:italic">H</text>
<text x="2240" y="1955" style="font-size:30px;font-style:italic">L</text>
<text x="2216" y="2072" style="font-size:28px;font-style:italic" textLength="30" lengthAdjust="spacingAndGlyphs">LA</text>
</g>

<!-- 52_housing3.svg -->
<g id="h4" transform="translate(1400,2180) scale(0.29605)" fill="none" stroke="#000" stroke-width="10.9" stroke-linecap="round" stroke-linejoin="round">
 <!-- traced at 3.3778x origin 1400,2180 -->
 <path d="M1150 0L870 320L745 480L360 990L150 1320Q125 1350 140 1390L360 1475Q400 1470 420 1440L600 1150L1000 640L1240 400L1500 130L1640 0"/>
 <path d="M1175 15L890 335L790 470L385 1000L195 1305L370 1410L440 1320L500 1220L580 1110L960 640L1200 390L1460 110L1560 0"/>
 <path d="M770 470L790 520L800 480M365 990L385 1030L388 1000"/>
 <path d="M220 1300L360 1270Q410 1290 440 1320"/>
 <ellipse cx="355" cy="1330" rx="36" ry="20"/>
 <path d="M370 1250Q370 1150 400 1100L500 960L880 560L1120 340M400 1165L500 1220"/>
 <path d="M575 1110L590 1150L985 660L970 625ZM585 1130L978 642M1010 590L1020 630L1150 480L1110 470ZM1110 470L1170 450"/>
 <path d="M875 320L1150 270M880 335L1140 285" stroke-width="7.7"/>
 <path d="M1110 320L1210 380L1240 260L1400 230L1250 370M1210 380L1250 370M1240 260L1260 290L1390 250"/>
 <path d="M135 1350Q105 1520 170 1660Q220 1730 330 1690M170 1590Q180 1570 200 1580L330 1650M340 1480Q330 1650 410 1824"/>
 <path d="M600 1400Q560 1560 600 1680L640 1690M620 1720Q590 1790 510 1800"/>
 <path d="M1750 230Q1400 400 1150 800Q900 1000 700 1150Q620 1250 600 1400L1470 870"/>
 <path d="M1610 300L1650 700M1660 280L1700 720L1640 830L1540 910M1700 250L1740 650L1600 870M1750 230L1790 600Q1780 750 1640 850"/>
 <path d="M1650 690L1580 730L1620 750L1550 770L1590 800L1470 870L1500 885L1560 860"/>
 <path d="M1770 810L1824 840"/>
 <!-- top area (continuation of H1 bottom) -->
 <path d="M1180 0L1200 40L1260 50L1290 20M1380 110L1400 160L1440 130M1440 60L1460 120L1500 100M1250 270L1380 130"/>
</g>
<g id="h5" transform="translate(1880,2180) scale(0.29605)" fill="none" stroke="#000" stroke-width="10.9" stroke-linecap="round" stroke-linejoin="round">
 <!-- traced at 3.3778x origin 1880,2180 -->
 <path d="M0 280L140 210L260 160Q300 150 330 175L640 330Q690 355 740 340L1160 155"/>
 <path d="M375 150L660 290Q690 305 720 290L1120 80M720 290Q760 230 830 190L1100 50M850 212L1110 78M820 170L500 0"/>
 <path d="M850 205L1105 70" stroke-width="6.4" stroke-dasharray="6 6"/>
 <path d="M705 370L710 440L760 430L1165 165M722 402L1140 132"/>
 <path d="M315 0L320 160M340 0L345 180M360 0L365 190M1140 0L1165 160M1100 0L1120 80M1040 0L1060 40L1100 50"/>
 <path d="M680 0L680 70L730 100L800 85Q830 40 820 0M730 100L730 20"/>
 <path d="M800 30A28 32 0 1 0 780 62" stroke-width="9"/>
 <ellipse cx="200" cy="145" rx="27" ry="40" transform="rotate(15 200 145)"/>
 <path d="M715 470L760 850Q790 1100 700 1220L670 1250"/>
 <path d="M140 810L650 1105M800 925L1260 750"/>
 <path d="M1520 0L1400 300L1340 480Q1270 650 1300 800L1305 990L-96 1806M1290 855L-273 1806"/>
 <path d="M1400 300L1824 60M1360 430Q1450 420 1520 390L1824 200"/>
 <!-- pin 25 -->
 <path fill="#fff" d="M1400 795L1650 940L1610 1020L1355 850Q1350 810 1400 795Z"/>
 <ellipse cx="1632" cy="980" rx="27" ry="42" transform="rotate(25 1632 980)" fill="#fff"/>
 <path d="M1375 810Q1365 830 1385 855" stroke-width="7.7"/>
 <!-- break line -->
 <path d="M1850 975L1285 1315L1300 1350L1210 1400" stroke-width="14.1"/>
</g>

<!-- 60_levers.svg -->
<g id="p31" transform="translate(1780,1500) scale(0.17857)" fill="none" stroke="#000" stroke-width="20.7" stroke-linecap="round" stroke-linejoin="round">
 <!-- traced at 5.6x origin 1780,1500 -->
 <!-- left piece -->
 <path d="M590 560Q540 640 440 650M640 600Q600 680 480 700M720 650Q650 770 520 790" stroke-width="19.5"/>
 <path fill="#fff" d="M140 640Q130 800 180 850L430 1000L470 990L550 860L540 800L440 740L480 710L360 610L300 650L190 600Q150 610 140 640Z" stroke-width="23"/>
 <path d="M300 650L210 770L440 890L540 800M440 890L430 1000M360 610L340 640L470 720" stroke-width="18.4"/>
 <!-- hook -->
 <path fill="#fff" d="M990 730L920 1000L990 1050Q1100 1080 1160 1030L1170 960L1130 900L1100 860L1070 780Z" stroke-width="23"/>
 <path d="M1020 740L950 990L1000 1030M1070 780L1010 1020M1080 960Q1090 1010 1140 1000" stroke-width="18.4"/>
 <!-- shaft -->
 <path fill="#fff" d="M250 290Q260 240 310 230L1680 1010L1780 840L1830 830L1900 870L1840 1100L1890 1130Q1900 1200 1840 1250L1790 1240L250 350Q240 320 250 290Z" stroke-width="23"/>
 <path d="M1860 900L1800 1060M1750 1050L1840 1100" stroke-width="16.1"/>
 <ellipse cx="1842" cy="1188" rx="30" ry="56" transform="rotate(25 1842 1188)" stroke-width="16.1"/>
 <!-- top block -->
 <path fill="#fff" d="M490 330L510 250L570 230L590 150L620 135L700 190L770 180L830 220L760 440L700 470L650 450L490 370Z" stroke-width="23"/>
 <path d="M570 230L590 300L660 270L680 200M650 450L670 300L740 220M690 330L700 370M620 135L690 200" stroke-width="17.2"/>
 <path d="M760 440L820 480" stroke-width="29.9"/>
</g>
<g id="p30" transform="translate(1660,1690) scale(0.11905)" fill="none" stroke="#000" stroke-width="32.2" stroke-linecap="round" stroke-linejoin="round">
 <!-- traced at 8.4x origin 1660,1690 -->
 <path fill="#fff" d="M1280 350L1540 195Q1650 180 1700 270L1700 430Q1680 500 1560 540L1290 450Z" stroke-width="39.1"/>
 <path d="M1300 440L1650 270" stroke-width="25.3"/>
 <path fill="#fff" d="M1180 750L1170 1130Q1200 1240 1320 1240Q1410 1220 1420 1140L1450 830Z" stroke-width="36.8"/>
 <path d="M1310 800L1270 1180M1200 1130L1270 1180" stroke-width="23"/>
 <path fill="#fff" d="M90 1180Q80 1080 170 1010L850 420Q860 320 930 300L1020 290Q1100 240 1150 260L1260 340L1280 460L1200 560Q1170 640 1190 700L1040 710Q990 730 980 800L900 1130Q870 1220 720 1280L690 1300L700 1200L570 1270L560 1400L300 1540Q200 1560 140 1480L90 1300Z" stroke-width="39.1"/>
 <path d="M230 1520Q150 1250 250 1120L1170 330M700 530L1100 300" stroke-width="23"/>
 <path fill="#fff" d="M1200 560L1290 480L1480 600L1400 800L1190 700Z" stroke-width="29.9"/>
 <circle cx="1462" cy="700" r="108" fill="#fff" stroke-width="39.1"/>
 <circle cx="1445" cy="690" r="48" stroke-width="27.6"/>
 <path d="M1390 600Q1340 680 1370 770" stroke-width="16.1"/>
</g>

<!-- 61_trigger.svg -->
<g id="p27" transform="translate(2380,2420) scale(0.14806)" fill="none" stroke="#000" stroke-width="24.6" stroke-linecap="round" stroke-linejoin="round">
 <!-- traced at 6.754x origin 2380,2420 -->
 <path fill="#fff" stroke-width="29.1" d="M730 300Q760 230 840 225L900 240L990 290L1005 330L1010 540L1035 660L1080 655L1250 740L1250 830L1180 920L1130 940L1100 1040L1130 1100L1120 1210L1080 1225L900 1250Q700 1330 600 1480L520 1680Q480 1740 400 1740L350 1680L200 1590Q140 1450 125 1230L620 920L650 800L720 680L720 420Z"/>
 <path d="M820 450L860 740L820 820M760 700L830 740M870 310L960 290" stroke-width="17.9"/>
 <circle cx="915" cy="390" r="24" stroke-width="15.7"/>
 <path d="M1035 660L1040 760L1110 850M1200 740L1240 760" stroke-width="15.7"/>
 <path fill="#fff" d="M860 880L940 780L1060 790L1110 850L1090 960L1010 1040L910 1020L860 950Z" stroke-width="17.9"/>
 <ellipse cx="1000" cy="925" rx="58" ry="76" transform="rotate(25 1000 925)" stroke-width="33.6"/>
 <path d="M660 930L740 980M860 1000L700 1080L560 1150L590 1320L630 1330L880 1230M620 1180L640 1320M640 1170L960 1100L1080 1060L1080 1150L890 1190" stroke-width="15.7"/>
 <path d="M860 1000L880 1020" stroke-width="38.1"/>
 <path d="M160 1250L180 1310L310 1380L380 1640L430 1660M310 1380L290 1420M180 1310L200 1340L290 1400M350 1150L460 1110L450 1150M520 1290L400 1560M300 1510L350 1680" stroke-width="14.6"/>
 <path d="M480 1260L620 1350" stroke-width="24.6"/>
 <path d="M200 1590L350 1680" stroke-width="38.1"/>
 <!-- spring 26 -->
 <path d="M360 340Q200 330 140 560Q130 680 220 720M390 390Q500 440 480 560Q440 720 300 745L250 730L240 490L350 480L360 560L300 640" stroke-width="31"/>
 <path d="M420 440Q450 560 350 700M330 430L380 440L370 530M200 580Q190 660 230 720M290 350Q190 420 180 620" stroke-width="17.9"/>
</g>
<g id="p28" transform="translate(2200,2250) scale(0.44843)" fill="none" stroke-linecap="round" stroke-linejoin="round">
 <path d="M795 560L830 580Q850 590 870 575L1060 460Q1075 452 1090 462L1130 490L1450 455Q1475 450 1480 425L1515 260Q1515 235 1495 230L1460 220Q1445 210 1455 200L1490 175" stroke="#000" stroke-width="18"/>
 <path d="M795 560L830 580Q850 590 870 575L1060 460Q1075 452 1090 462L1130 490L1450 455Q1475 450 1480 425L1515 260Q1515 235 1495 230L1460 220Q1445 210 1455 200L1490 175" stroke="#fff" stroke-width="3.4"/>
</g>

<!-- 90_labels.svg -->
<g text-anchor="middle">
<text x="1164" y="695">6</text>
<text x="1557" y="653.5">12</text>
<text x="1761" y="688">21</text>
<text x="1553" y="997.5">11</text>
<text x="1765" y="1031">20</text>
<text x="1557" y="1345">10</text>
<text x="1087" y="1412">6</text>
<text x="1792" y="1421">19</text>
<text x="1292" y="1708">16</text>
<text x="1649" y="1718">30</text>
<text x="716.5" y="1571.5">18</text>
<text x="991" y="1776">17</text>
<text x="2770" y="649.5">15</text>
<text x="2731" y="996">14</text>
<text x="2928" y="1028">22</text>
<text x="2274" y="1063">6</text>
<text x="2479" y="1340.5">16</text>
<text x="2737" y="1370">13</text>
<text x="2950" y="1407">20</text>
<text x="1896" y="1228.5">18</text>
<text x="2172" y="1422">17</text>
<text x="348.5" y="2074">3</text>
<text x="553" y="2020.5">1,2</text>
<text x="723" y="1978">4</text>
<text x="820" y="1947">5</text>
<text x="1039" y="1893.5">1,2</text>
<text x="1167.5" y="1969.5">24</text>
<text x="1247" y="1943">6</text>
<text x="1398" y="1905">7,8,9</text>
<text x="1593" y="1962">19</text>
<text x="1485" y="2318.5">23</text>
<text x="2115.5" y="1582">31</text>
<text x="1776" y="1951">29</text>
<text x="2467" y="2348">25</text>
<text x="2542" y="2391.5">26</text>
<text x="2609" y="2431.5">27</text>
<text x="2748" y="2566">28</text>
<text transform="translate(2991,2614) rotate(-90)" style="font-weight:normal;font-size:27.2px">172ET043 SC</text>
</g>
<g class="ld">
<path d="M1516.7 657.2L1455.2 692.9M1731 691L1670.6 724.7M1190.5 702L1227 722.7"/>
<path d="M1516.7 1002.4L1456.3 1036.9M1731 1036.9L1671.4 1070.6"/>
<path d="M1517.9 1349.4L1454.5 1385.1M1112.5 1420.8L1145 1439.6M1754.5 1423L1692 1458.8M1187.5 1635L1254.5 1673"/>
<path d="M757 1569.8L804 1594.4M1034 1748.4L1098.4 1711.5"/>
<path d="M2738.5 653.3L2676 687.8"/>
<path d="M2697.8 1000.4L2635.3 1035.2M2896.4 1031.6L2834 1065M2293.8 1069.6L2327.2 1088.8M2368.8 1285.2L2435.7 1323.1"/>
<path d="M2697.8 1379.5L2636.6 1412.5M2912 1412.5L2852.7 1445M2215.6 1396.5L2279.5 1360.3"/>
<path d="M1937.9 1224.9L1984.4 1251.6"/>
<path d="M350 2094V2350M551 2040.6V2132M722 1993.8V2243.8M818.8 1969.2V2163.4L843.4 2232.6"/>
<path d="M1037.5 1913.8V1998.6M1168.3 1979.8V2052L1217 2139.2M1248.2 1960.6V2043.2M1396 1920.4V2036.5M1592 1979.8V2054.4"/>
<path d="M1524 2298.7Q1540 2292 1546.4 2285.3L1576.8 2249.6"/>
<path d="M2079.9 1587.1L2015.2 1622.9M1691.5 1723.3L1742 1751.4M1816.5 1930L1876.8 1896"/>
<path d="M2426.5 2355.4L2323.3 2415M2505 2395.7L2457.8 2422.6L2433.2 2465.2M2570 2438.3L2531 2458.5M2641.7 2491.3L2709 2528"/>
</g>
<g fill="none" stroke="#000" stroke-width="7">
<ellipse cx="1258" cy="738.6" rx="19" ry="24.6" transform="rotate(-8 1258 738.6)"/>
<ellipse cx="1169.6" cy="1453.4" rx="19" ry="24.6" transform="rotate(-8 1169.6 1453.4)"/>
<ellipse cx="2351" cy="1103" rx="19" ry="24.6" transform="rotate(-8 2351 1103)"/>
<ellipse cx="1254" cy="2088" rx="19" ry="24.6" transform="rotate(-8 1254 2088)"/>
</g>

</svg>
</body>
</html>
